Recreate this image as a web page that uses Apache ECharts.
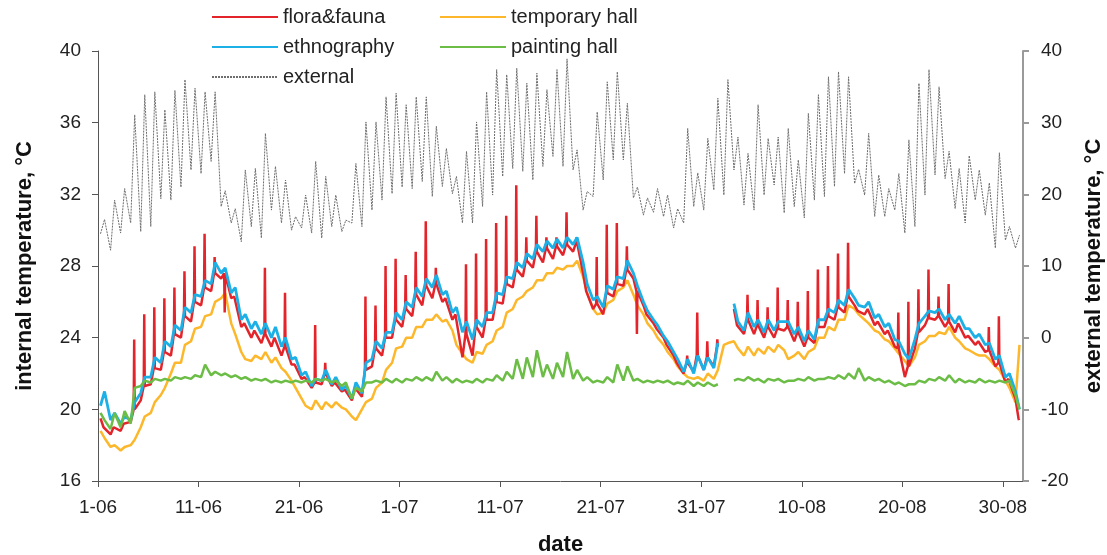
<!DOCTYPE html>
<html><head><meta charset="utf-8">
<script src="https://cdn.jsdelivr.net/npm/echarts@6/dist/echarts.min.js"></script>
<style>html,body{margin:0;padding:0;background:#fff}#c{width:1107px;height:555px}</style>
</head><body><div id="c"></div>
<script>
// x tick labels (every 10 days from 1 June)
const tickLabels = ['1-06','11-06','21-06','1-07','11-07','21-07','31-07','10-08','20-08','30-08'];
const tickDays = [0,10,20,30,40,50,60,70,80,90];

// external temperature (right axis), daily minimum and maximum
const extMin = [14.5,12.2,14.6,16.0,14.8,15.5,19.4,19.2,21.0,23.4,
  22.9,24.6,18.3,16.0,13.4,15.5,13.9,17.8,16.0,15.0,
  15.3,14.6,13.9,15.5,14.8,16.0,15.5,17.8,19.2,20.1,
  21.0,20.8,21.8,19.7,21.1,20.1,16.0,16.0,18.3,19.9,
  22.5,23.6,23.2,22.0,23.9,25.3,23.9,23.4,17.8,19.7,
  22.0,24.8,24.8,19.5,17.1,17.5,16.9,15.3,16.0,18.3,
  17.8,20.6,19.9,23.4,18.5,17.8,19.9,21.3,17.4,18.3,
  16.7,19.2,19.7,21.1,22.9,21.5,19.9,16.9,16.9,17.8,
  14.6,15.5,19.9,22.7,22.2,18.0,16.0,19.2,17.1,12.5,
  13.6,12.5];
const extMax = [16.5,19.2,20.8,31.1,33.9,34.3,31.8,34.5,36.0,34.8,
  34.3,34.3,20.5,18.0,23.4,23.6,28.5,23.9,22.0,16.9,
  19.9,24.6,22.5,19.9,16.4,24.3,30.1,30.1,33.6,34.1,
  32.5,33.6,33.6,29.5,26.4,22.5,26.0,30.1,34.3,37.4,
  36.7,37.6,35.5,36.9,34.6,37.4,38.9,26.2,20.4,31.5,
  35.7,37.1,32.7,21.0,19.5,20.8,19.9,18.0,29.2,23.0,
  27.8,33.4,36.0,28.0,25.7,32.5,27.8,28.0,29.2,24.8,
  31.3,33.9,36.4,37.1,36.4,23.5,28.5,22.7,20.8,22.9,
  27.6,35.5,37.4,35.0,26.0,23.6,25.4,23.4,21.6,25.8,
  15.5,14.3];

// ethnography (left axis), daily low and high
const ethnoLo = [20.2,19.4,19.2,19.4,20.9,21.8,22.6,23.5,24.4,25.4,
  26.3,27.0,27.6,26.5,25.0,24.5,24.2,24.0,23.5,22.8,
  21.9,21.3,21.6,21.4,21.1,20.6,20.9,22.8,23.4,24.3,
  25.0,25.7,26.3,26.8,26.4,25.4,24.3,23.9,24.6,25.4,
  26.4,27.3,27.9,28.4,28.8,29.0,29.0,29.2,28.2,26.1,
  25.7,26.7,27.3,27.6,26.0,25.0,24.1,23.2,22.1,22.0,
  22.2,22.3,null,25.9,24.4,24.6,24.3,24.4,24.9,24.2,
  23.8,23.9,25.0,25.4,25.8,26.2,25.7,25.1,24.6,23.9,
  23.1,23.9,25.2,25.4,25.0,24.8,24.5,24.0,23.6,22.8,
  21.8,21.0];
const ethnoHi = [21.0,19.8,19.6,20.4,21.8,22.9,23.8,24.7,25.7,26.4,
  27.2,28.2,27.9,26.8,25.3,24.9,24.8,24.6,24.0,22.9,
  22.1,21.7,22.2,21.8,21.3,21.5,22.6,23.8,24.3,25.4,
  26.0,26.8,27.3,27.5,26.6,25.7,24.9,25.0,25.4,26.5,
  27.4,28.2,28.7,29.2,29.4,29.5,29.6,29.6,27.0,26.3,
  26.9,27.4,28.3,26.9,25.5,24.7,23.8,22.8,22.8,23.0,
  22.9,23.7,null,24.9,25.4,25.0,25.0,24.9,24.9,24.6,
  24.4,25.0,25.6,26.1,26.7,25.8,26.0,25.3,24.8,23.8,
  22.8,24.8,25.5,25.6,25.3,25.2,24.5,24.2,23.7,23.0,
  22.0,20.0];

// temporary hall, daily low and high
const tempLo = [18.8,17.9,17.7,18.0,19.0,19.8,20.8,22.0,22.6,23.8,
  24.6,25.3,26.2,24.8,23.2,22.7,22.8,22.6,22.3,21.6,
  20.6,20.0,20.0,20.1,20.1,19.6,20.0,20.6,21.5,22.6,
  23.5,24.0,24.6,25.0,24.9,24.4,23.1,22.6,23.1,23.8,
  24.6,25.6,26.3,26.8,27.2,27.6,27.8,28.0,27.4,25.6,
  25.4,26.1,26.8,26.4,25.3,24.4,23.6,22.8,22.0,21.7,
  21.6,21.7,23.6,23.8,23.0,23.0,23.1,23.2,23.3,23.0,
  22.8,23.4,24.0,24.4,25.0,25.6,25.0,24.4,23.9,23.4,
  22.7,22.9,23.8,24.1,24.2,24.0,23.4,23.1,23.0,22.4,
  21.6,20.4];
const tempHi = [18.4,18.0,17.9,18.3,19.6,20.4,21.2,22.6,23.6,24.5,
  25.2,26.0,26.5,24.2,22.8,23.0,23.2,22.9,22.1,21.2,
  20.2,20.5,20.4,20.4,20.0,19.4,20.4,21.2,22.2,23.4,
  24.0,24.6,25.0,25.3,25.0,23.6,22.8,23.2,23.6,24.4,
  25.4,26.1,26.6,27.2,27.6,27.9,28.0,28.3,26.5,25.3,
  25.9,26.6,27.2,25.8,24.8,24.0,23.2,22.4,21.8,21.8,
  22.0,22.2,23.7,23.4,23.5,23.4,23.5,23.6,22.8,23.2,
  23.2,24.0,24.6,25.0,25.8,25.3,24.8,24.3,23.8,23.1,
  22.4,23.6,24.1,24.3,24.6,23.8,23.3,23.0,22.8,22.2,
  21.2,23.6];

// flora&fauna, daily low, high and short daily peak
const floraLo = [19.5,18.6,18.8,19.3,20.5,21.4,22.2,23.0,24.0,24.9,
  25.8,26.6,27.3,26.2,24.6,24.0,23.7,23.5,23.0,22.5,
  21.7,21.2,21.4,21.3,21.0,20.5,20.7,22.4,23.0,24.0,
  24.6,25.2,25.8,26.2,26.0,25.0,22.9,23.0,24.0,25.0,
  25.9,26.8,27.4,27.9,28.2,28.4,28.6,28.8,27.6,25.6,
  25.3,26.3,26.9,27.3,25.8,24.8,24.0,23.0,22.0,22.1,
  22.2,22.4,null,25.6,24.2,24.2,24.0,24.0,24.4,23.8,
  23.5,23.7,24.6,25.0,25.4,25.8,25.3,24.7,24.2,23.5,
  21.8,23.4,24.7,25.0,24.6,24.3,24.0,23.6,23.2,22.4,
  21.5,20.6];
const floraHi = [19.0,19.0,19.2,20.0,21.3,22.3,23.2,24.2,25.2,26.0,
  26.8,27.6,27.6,26.3,24.8,24.4,24.2,24.0,23.5,22.5,
  21.8,21.5,22.0,21.5,21.1,21.2,22.2,23.4,24.0,25.0,
  25.6,26.4,26.9,27.0,26.2,25.3,24.2,24.6,25.0,26.0,
  27.0,27.8,28.3,28.8,29.0,29.1,29.2,29.3,26.6,25.9,
  26.5,27.0,27.8,26.6,25.3,24.5,23.6,22.6,22.6,23.0,
  22.9,23.5,null,24.7,25.0,24.7,24.6,24.5,24.6,24.3,
  24.0,24.6,25.2,25.7,26.3,25.5,25.6,24.9,24.4,23.4,
  22.4,24.3,25.1,25.2,24.9,24.8,24.1,23.8,23.3,22.6,
  21.7,19.5];
const floraPeak = [19.0,19.0,19.2,23.9,25.3,25.7,26.2,26.8,27.7,29.1,
  29.8,28.5,25.4,26.3,24.8,24.4,27.9,24.0,26.5,22.5,
  21.8,24.7,22.6,21.5,21.1,21.2,26.3,25.8,28.0,28.4,
  27.5,28.8,30.5,27.9,26.2,25.3,28.1,28.7,29.5,30.4,
  30.8,32.5,29.6,30.8,29.6,29.6,31.0,29.6,26.6,28.5,
  30.3,30.4,29.1,24.2,25.3,24.5,23.6,22.6,23.0,25.4,
  23.8,23.9,null,24.7,26.4,26.1,25.7,26.8,26.1,26.0,
  26.6,27.8,28.0,28.7,29.3,25.5,25.6,24.9,24.4,25.4,
  26.0,26.7,27.8,26.3,27.0,24.8,24.1,23.8,24.6,25.2,
  21.7,19.4];

// painting hall, daily low and high
const paintLo = [19.8,18.9,19.0,19.2,21.3,21.5,21.6,21.6,21.7,21.7,
  21.8,21.9,21.9,21.8,21.7,21.6,21.6,21.5,21.5,21.5,
  21.5,21.5,21.6,21.5,21.3,20.6,21.0,21.5,21.5,21.5,
  21.5,21.6,21.6,21.6,21.6,21.5,21.5,21.5,21.5,21.6,
  21.6,21.7,21.7,21.8,21.8,21.7,21.8,21.7,21.6,21.5,
  21.5,21.5,21.6,21.6,21.5,21.5,21.5,21.4,21.4,21.3,
  21.3,21.3,null,21.6,21.6,21.6,21.5,21.6,21.5,21.6,
  21.6,21.6,21.7,21.7,21.7,21.7,21.6,21.6,21.5,21.4,
  21.3,21.4,21.5,21.6,21.6,21.5,21.5,21.5,21.5,21.5,
  21.5,20.8];
const paintHi = [19.4,19.8,19.9,21.2,21.6,21.7,21.7,21.8,21.8,21.9,
  22.5,22.1,22.0,21.9,21.8,21.7,21.7,21.6,21.6,21.6,
  21.6,21.7,21.7,21.6,21.5,21.2,21.5,21.6,21.7,21.7,
  21.7,21.8,21.8,22.1,21.8,21.7,21.6,21.7,21.7,21.9,
  22.1,22.8,22.9,23.3,22.5,22.6,23.2,22.2,21.8,21.6,
  21.8,22.5,22.4,21.7,21.6,21.6,21.6,21.5,21.6,21.5,
  21.5,21.4,null,21.7,21.8,21.7,21.7,21.7,21.6,21.7,
  21.8,21.7,21.8,21.9,22.0,22.3,21.8,21.7,21.6,21.5,
  21.4,21.6,21.7,21.8,21.9,21.7,21.6,21.7,21.6,21.6,
  21.6,20.0];

const v = x => (x == null ? '-' : x);
function daily(lo, hi) {
  const out = [];
  for (let d = 0; d < lo.length; d++) {
    out.push([d + 0.25, v(lo[d])]);
    out.push([d + 0.65, v(hi[d])]);
  }
  return out;
}
function dailySpike(lo, hi, pk) {
  const out = [];
  for (let d = 0; d < lo.length; d++) {
    out.push([d + 0.25, v(lo[d])]);
    out.push([d + 0.55, v(hi[d])]);
    out.push([d + 0.60, v(pk[d])]);
    out.push([d + 0.65, v(hi[d])]);
  }
  return out;
}

const FONT = '"Liberation Sans", Arial, Helvetica, sans-serif';
const chart = echarts.init(document.getElementById('c'), null, {renderer: 'canvas'});
const lineSeries = (name, data, color, width, yIdx, z) => ({
  name, type: 'line', data, yAxisIndex: yIdx, symbol: 'none', showSymbol: false,
  connectNulls: false, z, animation: false,
  lineStyle: {color, width}, itemStyle: {color}
});
const legendBase = {
  orient: 'vertical', itemWidth: 66, itemHeight: 12, itemGap: 10,
  textStyle: {fontSize: 20, color: '#222', fontFamily: FONT},
  itemStyle: {opacity: 0, color: 'rgba(0,0,0,0)', borderWidth: 0}
};

chart.setOption({
  animation: false,
  backgroundColor: '#ffffff',
  textStyle: {fontFamily: FONT},
  grid: {left: 98, right: 84, top: 51, bottom: 74, containLabel: false, outerBoundsMode: 'none'},
  legend: [
    Object.assign({left: 206, top: 2, data: ['flora&fauna', 'ethnography', 'external']}, legendBase),
    Object.assign({left: 434, top: 2, data: ['temporary hall', 'painting hall']}, legendBase)
  ],
  xAxis: {
    type: 'value', min: 0, max: 92, interval: 10,
    name: 'date', nameLocation: 'middle', nameGap: 53,
    nameTextStyle: {fontSize: 22, fontWeight: 'bold', color: '#111', fontFamily: FONT},
    axisLine: {onZero: false, lineStyle: {color: '#555', width: 1}},
    axisTick: {show: true, length: 6, inside: false, customValues: tickDays, lineStyle: {color: '#555'}},
    axisLabel: {fontSize: 19, color: '#222', margin: 17, customValues: tickDays,
      formatter: val => tickLabels[Math.round(val / 10)] || ''},
    splitLine: {show: false}
  },
  yAxis: [
    {type: 'value', min: 16, max: 40, interval: 4, position: 'left',
     name: 'internal temperature, °C', nameLocation: 'middle', nameGap: 62, nameRotate: 90,
     nameTextStyle: {fontSize: 22, fontWeight: 'bold', color: '#111', fontFamily: FONT},
     axisLine: {show: true, onZero: false, lineStyle: {color: '#555', width: 1}},
     axisTick: {show: true, length: 6, lineStyle: {color: '#555'}},
     axisLabel: {fontSize: 19, color: '#222', margin: 17},
     splitLine: {show: false}},
    {type: 'value', min: -20, max: 40, interval: 10, position: 'right',
     name: 'external temperature, °C', nameLocation: 'middle', nameGap: 60, nameRotate: 90,
     nameTextStyle: {fontSize: 22, fontWeight: 'bold', color: '#111', fontFamily: FONT},
     axisLine: {show: true, onZero: false, lineStyle: {color: '#9a9a9a', width: 2}},
     axisTick: {show: true, length: 6, lineStyle: {color: '#9a9a9a', width: 2}},
     axisLabel: {fontSize: 19, color: '#222', margin: 18},
     splitLine: {show: false}}
  ],
  series: [
    {name: 'external', type: 'line', yAxisIndex: 1, data: daily(extMin, extMax),
     symbol: 'none', showSymbol: false, z: 1, animation: false,
     lineStyle: {color: '#6e6e6e', width: 1, type: [2, 1]}, itemStyle: {color: '#6e6e6e'}},
    lineSeries('temporary hall', daily(tempLo, tempHi), '#fdb72a', 2.5, 0, 2),
    lineSeries('flora&fauna', dailySpike(floraLo, floraHi, floraPeak), '#e3252b', 2.5, 0, 3),
    lineSeries('ethnography', daily(ethnoLo, ethnoHi), '#1cb0e6', 2.8, 0, 4),
    lineSeries('painting hall', daily(paintLo, paintHi), '#6bbd46', 2.5, 0, 5)
  ]
});
</script>
</body></html>
